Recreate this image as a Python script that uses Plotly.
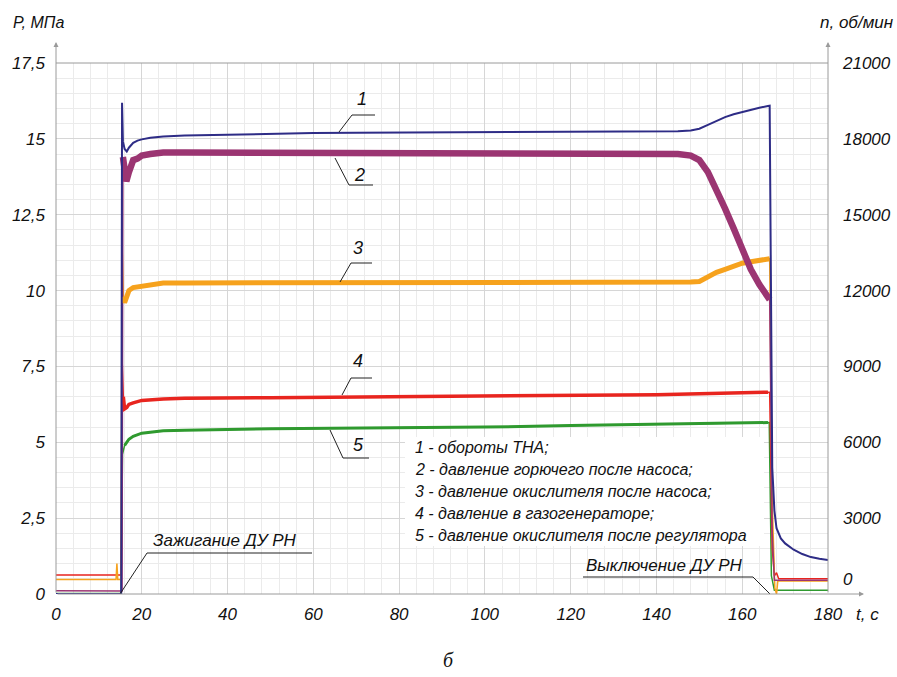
import plotly.graph_objects as go

# ---------------- data ----------------
# 1 - turbopump rotor speed, rpm (right axis)
t_rpm = [0, 15.2, 15.4, 15.6, 16.0, 16.5, 17, 18, 19, 20, 22, 25, 30, 40, 50, 60, 70, 80, 90,
         100, 110, 120, 130, 140, 145, 148, 150, 152, 154, 156, 158, 160, 162, 164, 166, 166.4,
         167.0, 167.5, 168, 169, 170, 172, 174, 176, 178, 180]
rpm = [0, 0, 19430, 17900, 17600, 17500, 17650, 17840, 17930, 17980, 18040, 18090, 18130, 18170,
       18200, 18230, 18240, 18250, 18250, 18260, 18260, 18270, 18280, 18290, 18300, 18330, 18400,
       18550, 18720, 18860, 18970, 19060, 19150, 19230, 19300, 19310,
       5000, 3300, 2600, 2200, 2000, 1750, 1580, 1460, 1390, 1340]

# 2 - fuel pressure after pump, MPa
t_fuel = [0, 15.2, 15.4, 15.6, 16.0, 16.4, 17, 17.5, 18, 19, 20, 22, 25, 30, 60, 100, 140, 145,
          148, 150, 152, 154, 156, 158, 160, 162, 164, 166, 166.4, 167.0, 167.5, 180]
p_fuel = [0.11, 0.11, 0.1, 14.4, 13.9, 13.6, 13.9, 14.1, 14.3, 14.35, 14.45, 14.5, 14.55, 14.55,
          14.55, 14.55, 14.55, 14.5, 14.45, 14.3, 13.9, 13.35, 12.7, 12.05, 11.3, 10.7, 10.2, 9.8,
          9.7, 2.0, 0.45, 0.45]

# 3 - oxidizer pressure after pump, MPa
t_ox = [0, 14.0, 14.2, 14.4, 15.2, 15.4, 15.7, 16.0, 16.5, 17, 18, 20, 22, 25, 30, 60, 100, 148,
        150, 152, 154, 156, 158, 160, 162, 164, 166, 166.4, 167.0, 167.6, 168.0, 168.3, 180]
p_ox = [0.48, 0.48, 1.0, 0.48, 0.48, 11.6, 9.8, 9.6, 9.8, 10.0, 10.1, 10.15, 10.2, 10.25, 10.25,
        10.25, 10.27, 10.28, 10.3, 10.45, 10.6, 10.7, 10.8, 10.9, 10.95, 11.0, 11.05, 11.05, 3.0,
        0.2, 0.0, 0.43, 0.43]

# 4 - gas generator pressure, MPa
t_gg = [0, 15.2, 15.4, 15.7, 16.0, 16.5, 17, 18, 20, 25, 30, 50, 80, 100, 120, 140, 150, 160,
        166, 166.4, 167.0, 167.5, 168.0, 168.5, 180]
p_gg = [0.63, 0.63, 7.8, 6.5, 6.1, 6.15, 6.25, 6.3, 6.38, 6.43, 6.45, 6.47, 6.5, 6.52, 6.55,
        6.57, 6.6, 6.63, 6.65, 6.65, 1.5, 0.6, 0.7, 0.5, 0.5]

# 5 - oxidizer pressure after regulator, MPa
t_reg = [0, 15.2, 15.5, 16.0, 16.5, 17, 18, 20, 25, 30, 50, 80, 100, 120, 140, 150, 160, 166,
         166.3, 166.8, 167.5, 180]
p_reg = [0.02, 0.02, 4.6, 4.9, 5.0, 5.1, 5.2, 5.3, 5.38, 5.4, 5.45, 5.48, 5.5, 5.55, 5.6, 5.62,
         5.64, 5.65, 5.65, 0.6, 0.12, 0.12]

x_ticks = [0, 20, 40, 60, 80, 100, 120, 140, 160, 180]
p_ticks = [0, 2.5, 5, 7.5, 10, 12.5, 15, 17.5]
p_labels = ["0", "2,5", "5", "7,5", "10", "12,5", "15", "17,5"]
rpm_ticks = [3000, 6000, 9000, 12000, 15000, 18000, 21000]

legend_lines = ["1 - обороты ТНА;",
                "2 - давление горючего после насоса;",
                "3 - давление окислителя после насоса;",
                "4 - давление в газогенераторе;",
                "5 - давление окислителя после регулятора"]

# ---------------- styling ----------------
C_BLUE = "#2e2c86"
C_PURP = "#9b3572"
C_ORNG = "#f6a21d"
C_RED = "#e8251f"
C_GRN = "#2f9a2f"
AX = "#9a9a9a"
FONT = "Liberation Sans"

L, R, T, B = 56, 828, 63, 594   # plot-area pixel box
W, H = 897, 677


def P(px, py):
    """pixel -> data (t, MPa)"""
    return ((px - L) / (R - L) * 180, (B - py) / (B - T) * 17.5)


def PP(px, py):
    """pixel -> paper"""
    return ((px - L) / (R - L), (B - py) / (B - T))


def it(s):
    return "<i>" + s + "</i>"


def band(t, v, lo, hi):
    pts = [(a, b) for a, b in zip(t, v) if lo <= a <= hi]
    return [p[0] for p in pts], [p[1] for p in pts]


fig = go.Figure()

# thin full traces
fig.add_trace(go.Scatter(x=t_reg, y=p_reg, mode="lines", line=dict(color=C_GRN, width=1.5)))
fig.add_trace(go.Scatter(x=t_gg, y=p_gg, mode="lines", line=dict(color=C_RED, width=1.5)))
fig.add_trace(go.Scatter(x=t_ox, y=p_ox, mode="lines", line=dict(color=C_ORNG, width=1.5)))
fig.add_trace(go.Scatter(x=t_fuel, y=p_fuel, mode="lines", line=dict(color=C_PURP, width=1.5)))

# noisy bands (thick)
bx, by = band(t_reg, p_reg, 16.0, 166.0)
fig.add_trace(go.Scatter(x=bx, y=by, mode="lines", line=dict(color=C_GRN, width=3)))
bx, by = band(t_gg, p_gg, 15.7, 166.0)
fig.add_trace(go.Scatter(x=bx, y=by, mode="lines", line=dict(color=C_RED, width=3.5)))
bx, by = band(t_ox, p_ox, 15.7, 166.4)
fig.add_trace(go.Scatter(x=bx, y=by, mode="lines", line=dict(color=C_ORNG, width=5)))
bx, by = band(t_fuel, p_fuel, 15.6, 166.4)
fig.add_trace(go.Scatter(x=bx, y=by, mode="lines", line=dict(color=C_PURP, width=6.5)))

fig.add_trace(go.Scatter(x=t_rpm, y=rpm, mode="lines", yaxis="y2",
                         line=dict(color=C_BLUE, width=2)))

shapes = []
annotations = []

# legend white box
x0, y0 = P(405, 437)
x1, y1 = P(764, 546)
shapes.append(dict(type="rect", xref="x", yref="y", x0=x0, x1=x1, y0=y1, y1=y0,
                   fillcolor="white", line=dict(width=0), layer="between"))

# top border
shapes.append(dict(type="line", xref="paper", yref="paper", x0=0, x1=1, y0=1, y1=1,
                   line=dict(color=AX, width=1)))

# curve leaders
leaders = [
    ([(339, 132), (352, 115), (375, 115)], "1", (362, 99)),
    ([(335, 158), (349, 185), (373, 185)], "2", (359, 175)),
    ([(340, 282), (351, 263), (372, 263)], "3", (358, 248)),
    ([(342, 395), (351, 378), (372, 378)], "4", (358, 361)),
    ([(330, 430), (343, 458), (369, 458)], "5", (358, 445)),
]
for pts, lab, tp in leaders:
    d = [P(*p) for p in pts]
    path = "M {},{} L {},{} L {},{}".format(d[0][0], d[0][1], d[1][0], d[1][1], d[2][0], d[2][1])
    shapes.append(dict(type="path", xref="x", yref="y", path=path,
                       line=dict(color="#222", width=1)))
    tx, ty = P(*tp)
    annotations.append(dict(x=tx, y=ty, xref="x", yref="y", text=it(lab), showarrow=False,
                            font=dict(family=FONT, size=18, color="#111", style="italic")))

# ignition / shutdown leaders
for pts in ([(120, 594), (147, 553), (312, 553)], [(583, 577), (753, 577), (770, 594)]):
    d = [P(*p) for p in pts]
    path = "M {},{} L {},{} L {},{}".format(d[0][0], d[0][1], d[1][0], d[1][1], d[2][0], d[2][1])
    shapes.append(dict(type="path", xref="x", yref="y", path=path,
                       line=dict(color="#222", width=1)))

tx, ty = P(151, 540)
annotations.append(dict(x=tx, y=ty, xref="x", yref="y", text=it("Зажигание ДУ РН"),
                        showarrow=False, xanchor="left",
                        font=dict(family=FONT, size=17, color="#111", style="italic")))
tx, ty = P(584, 565)
annotations.append(dict(x=tx, y=ty, xref="x", yref="y", text=it("Выключение ДУ РН"),
                        showarrow=False, xanchor="left",
                        font=dict(family=FONT, size=17, color="#111", style="italic")))

# legend text
for i, s in enumerate(legend_lines):
    tx, ty = P(413, 447 + i * 22)
    annotations.append(dict(x=tx, y=ty, xref="x", yref="y", text=it(s), showarrow=False,
                            xanchor="left", font=dict(family=FONT, size=16, color="#111",
                                                      style="italic")))

# axis arrows
hx, hy = PP(L, 42)
annotations.append(dict(x=hx, y=hy, xref="paper", yref="paper", ax=0, ay=B - 42, text="",
                        showarrow=True, arrowhead=2, arrowsize=1, arrowwidth=1, arrowcolor=AX))
hx, hy = PP(R, 42)
annotations.append(dict(x=hx, y=hy, xref="paper", yref="paper", ax=0, ay=B - 42, text="",
                        showarrow=True, arrowhead=2, arrowsize=1, arrowwidth=1, arrowcolor=AX))
hx, hy = PP(864, B)
annotations.append(dict(x=hx, y=hy, xref="paper", yref="paper", ax=-(864 - L), ay=0, text="",
                        showarrow=True, arrowhead=2, arrowsize=1, arrowwidth=1, arrowcolor=AX))


# axis titles & misc
def ptext(px, py, s, anchor="left", size=17, family=FONT):
    x, y = PP(px, py)
    annotations.append(dict(x=x, y=y, xref="paper", yref="paper", text=it(s), showarrow=False,
                            xanchor=anchor, yanchor="middle",
                            font=dict(family=family, size=size, color="#111", style="italic")))


ptext(11, 22, "P, МПа", size=16)
ptext(896, 22, "n, об/мин", anchor="right", size=17)
ptext(854, 614, "t, с", size=17)
ptext(841, 579, "0", size=17)
ptext(448, 660, "б", anchor="center", size=20, family="Liberation Serif")

tickfont = dict(family=FONT, size=17, color="#111", style="italic")

fig.update_layout(
    width=W, height=H,
    margin=dict(l=L, r=W - R, t=T, b=H - B, autoexpand=False),
    paper_bgcolor="white", plot_bgcolor="white",
    showlegend=False,
    shapes=shapes,
    annotations=annotations,
    xaxis=dict(range=[0, 180], tickmode="array", tickvals=x_ticks,
               ticktext=[it(str(v)) for v in x_ticks], automargin=False,
               showgrid=True, gridcolor="#d6d6d6", gridwidth=1,
               minor=dict(tickmode="linear", tick0=0, dtick=4, showgrid=True,
                          gridcolor="#ebebeb", gridwidth=1),
               zeroline=False, showline=False, ticks="", ticklabelstandoff=8,
               tickfont=tickfont),
    yaxis=dict(range=[0, 17.5], tickmode="array", tickvals=p_ticks,
               ticktext=[it(s) for s in p_labels], automargin=False,
               showgrid=True, gridcolor="#d6d6d6", gridwidth=1,
               minor=dict(tickmode="linear", tick0=0, dtick=0.5, showgrid=True,
                          gridcolor="#ebebeb", gridwidth=1),
               zeroline=False, showline=False, ticks="", ticklabelstandoff=10,
               tickfont=tickfont),
    yaxis2=dict(range=[0, 21000], overlaying="y", side="right", tickmode="array",
                tickvals=rpm_ticks, ticktext=[it(str(v)) for v in rpm_ticks],
                automargin=False,
                showgrid=False, zeroline=False, showline=False, ticks="",
                ticklabelstandoff=14, tickfont=tickfont),
)

fig.write_html("out.html")
